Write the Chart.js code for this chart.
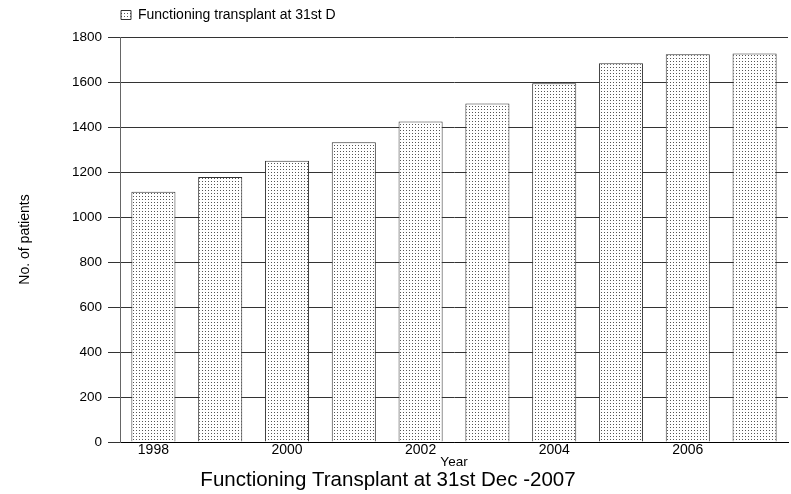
<!DOCTYPE html>
<html lang="en">
<head>
<meta charset="UTF-8">
<title>Functioning Transplant at 31st Dec -2007</title>
<script src="https://cdn.jsdelivr.net/npm/chart.js"></script>
<style>
html, body { margin: 0; padding: 0; background: #ffffff; }
.chart-box { position: relative; width: 791px; height: 494px; }
</style>
</head>
<body>
<div class="chart-box">
<canvas id="transplantChart"></canvas>
</div>
<script>
// Year-end counts of patients with a functioning transplant
const years = ['1998', '1999', '2000', '2001', '2002', '2003', '2004', '2005', '2006', '2007'];
const patients = [1112, 1178, 1250, 1332, 1425, 1505, 1594, 1683, 1723, 1727];
const yTicks = [0, 200, 400, 600, 800, 1000, 1200, 1400, 1600, 1800];

const FONT = 'Liberation Sans, Arial, Helvetica, sans-serif';

// small dotted fill, like the old print-style hatch
function dotPattern() {
  const c = document.createElement('canvas');
  c.width = 3;
  c.height = 3;
  const g = c.getContext('2d');
  g.fillStyle = '#ffffff';
  g.fillRect(0, 0, 3, 3);
  g.fillStyle = '#555555';
  g.fillRect(1, 1, 1, 1);
  return g.createPattern(c, 'repeat');
}

// push the plot down a little below the legend, nudge legend + title
const layoutTweaks = {
  id: 'layoutTweaks',
  beforeInit(chart) {
    if (!chart.legend) return;
    const fit = chart.legend.fit;
    chart.legend.fit = function() {
      fit.call(this);
      this.height += 5;
    };
  },
  afterLayout(chart) {
    if (chart.legend) {
      chart.legend.left -= 7;
    }
    if (chart.titleBlock) {
      chart.titleBlock.left -= 6;
      chart.titleBlock.right -= 6;
    }
  }
};

const ctx = document.getElementById('transplantChart').getContext('2d');
const dots = dotPattern();

new Chart(ctx, {
  type: 'bar',
  data: {
    labels: years,
    datasets: [{
      label: 'Functioning transplant at 31st D',
      data: patients,
      backgroundColor: dots,
      borderColor: '#333333',
      borderWidth: 1,
      barPercentage: 0.66,
      categoryPercentage: 1.0
    }]
  },
  plugins: [layoutTweaks],
  options: {
    responsive: true,
    maintainAspectRatio: false,
    animation: false,
    layout: { padding: { left: 0, right: 3, top: 0, bottom: 0 } },
    plugins: {
      legend: {
        display: true,
        position: 'top',
        align: 'start',
        fullSize: false,
        labels: {
          boxWidth: 10,
          boxHeight: 9,
          padding: 8,
          color: '#000000',
          font: { family: FONT, size: 14 }
        }
      },
      title: {
        display: true,
        position: 'bottom',
        text: 'Functioning Transplant at 31st Dec -2007',
        color: '#000000',
        font: { family: FONT, size: 20.5, weight: 'normal' },
        padding: { top: 0, bottom: 1 }
      },
      tooltip: { enabled: false }
    },
    scales: {
      x: {
        grid: { display: false, drawTicks: false },
        border: { display: true, color: '#000000' },
        ticks: {
          color: '#000000',
          font: { family: FONT, size: 14 },
          padding: 0,
          autoSkip: false,
          maxRotation: 0,
          callback: function(value, index) {
            return index % 2 === 0 ? years[index] : '';
          }
        },
        title: {
          display: true,
          text: 'Year',
          color: '#000000',
          font: { family: FONT, size: 13.5 },
          padding: { top: 0, bottom: -1.5 }
        },
        afterFit: function(scale) { scale.height = 26.4; }
      },
      y: {
        min: 0,
        max: 1800,
        afterBuildTicks: function(scale) {
          scale.ticks = yTicks.map(v => ({ value: v }));
        },
        grid: { color: '#333333', lineWidth: 1, tickLength: 12, drawTicks: true },
        border: { display: true, color: '#666666' },
        ticks: {
          color: '#000000',
          font: { family: FONT, size: 13.5 },
          padding: 6,
          callback: function(value) { return String(value); }
        },
        title: {
          display: true,
          text: 'No. of patients',
          color: '#000000',
          font: { family: FONT, size: 14 },
          padding: { top: 17, bottom: 0 }
        },
        afterFit: function(scale) { scale.width = 120; }
      }
    }
  }
});
</script>
</body>
</html>
